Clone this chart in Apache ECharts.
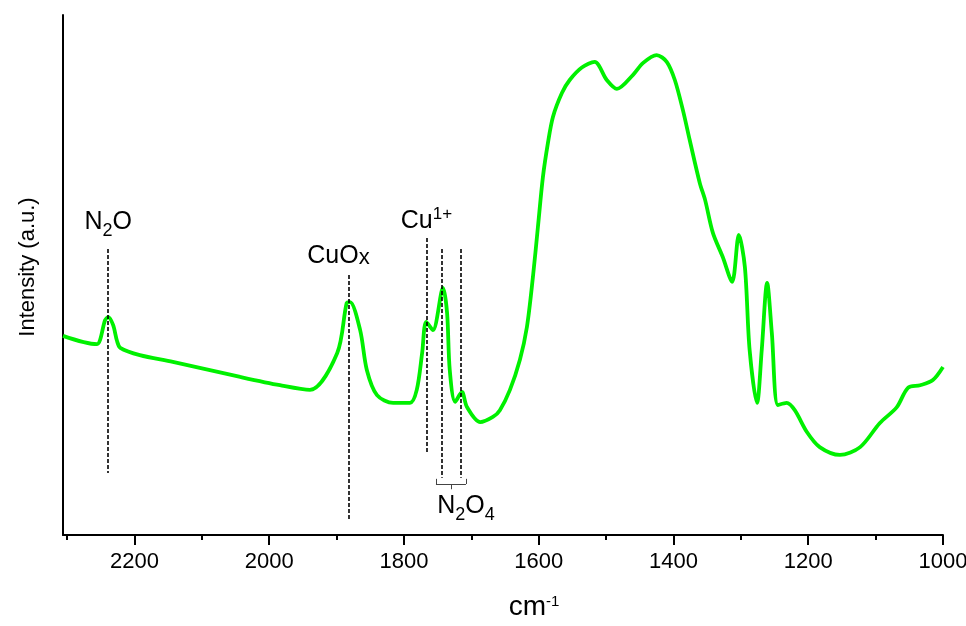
<!DOCTYPE html>
<html>
<head>
<meta charset="utf-8">
<script src="https://cdn.jsdelivr.net/npm/echarts@6/dist/echarts.min.js"></script>
<style>html,body{margin:0;padding:0;background:#fff;overflow:hidden}#c{width:966px;height:626px}</style>
</head>
<body>
<div id="c"></div>
<script>
// Spectrum (wavenumber in cm-1, intensity in a.u.)
const wavenumber = [2306,2255.5,2251,2243.6,2239,2231.7,2225.8,2221,2192,2143,2043,1984,1939.5,1899,1885,1880,1865,1855,1840,1816,1791,1781,1773,1767,1757,1742,1736,1732,1724,1714,1706.5,1687,1668,1657.6,1642.7,1627.9,1617.5,1608.6,1601.2,1593.8,1586.3,1578.9,1565.6,1554,1536,1517,1499,1484,1460,1445,1425,1410,1398,1386,1376,1361,1353,1341.5,1327,1313,1303,1294,1287,1276,1269,1261,1254,1245,1232,1220,1202,1183,1153,1123,1094,1068.5,1052,1034,1015,1000];
const intensity = [38.3,36.7,37.5,41.3,41.9,40.4,37.3,36.0,34.6,33.3,30.4,28.8,27.9,35.0,44.6,44.8,39.4,31.7,26.9,25.4,25.4,27.9,35.0,41.0,39.4,47.5,42.7,31.7,25.6,27.5,24.6,21.7,22.7,24.0,27.9,33.7,40.0,49.6,59.2,68.8,75.4,80.4,85.0,87.5,89.9,91.0,87.5,85.8,88.5,90.8,92.3,91.0,87.5,81.7,76.0,67.7,64.4,58.1,53.5,48.7,57.7,51.5,35.6,25.4,35.6,48.5,38.8,25.0,25.4,24.0,19.8,16.9,15.4,16.9,21.5,24.6,28.3,28.8,29.8,32.3];

// Axis ticks
const majorTicks = [1000,1200,1400,1600,1800,2000,2200];
const minorTicks = [1100,1300,1500,1700,1900,2100,2300];

// Annotation dashed lines: [wavenumber, yTop, yBottom]
const dashLines = [[2239,55.0,11.9],[1881.6,50.0,2.9],[1766,57.1,15.8],[1743.6,55.0,11.0],[1715.4,55.0,11.0]];
// Annotation labels: [wavenumber, y, rich text]
const labels = [[2239,60.1,'{n|N}{sub|2}{n|O}'],[1897.2,53.6,'{n|CuO}{xs|x}'],[1766.6,60.3,'{n|Cu}{sup|1+}'],[1708,5.5,'{n|N}{sub|2}{n|O}{sub|4}']];
// N2O4 bracket: [x1,y1,x2,y2]
const bracket = [[1752.5,10.8,1752.5,9.8],[1752.5,9.8,1708,9.8],[1708,9.8,1708,10.8],[1730,9.8,1730,8.8]];

const FONT = "'Liberation Sans', Arial, sans-serif";
const rich = {
  n: {fontSize: 25, fontFamily: FONT, color: '#000', lineHeight: 36, verticalAlign: 'middle'},
  sub: {fontSize: 18, fontFamily: FONT, color: '#000', verticalAlign: 'bottom'},
  xs: {fontSize: 22, fontFamily: FONT, color: '#000', verticalAlign: 'middle', padding: [4, 0, 0, 0]},
  sup: {fontSize: 17, fontFamily: FONT, color: '#000', verticalAlign: 'top', padding: [2, 0, 0, 0]}
};

const chart = echarts.init(document.getElementById('c'), null, {renderer: 'canvas'});
const data = wavenumber.map((w, i) => [w, intensity[i]]);

const markLineData = dashLines.map(d => [{coord: [d[0], d[1]]}, {coord: [d[0], d[2]]}]);
const bracketData = bracket.map(b => [{coord: [b[0], b[1]], lineStyle: {type: 'solid', width: 1, color: '#444'}}, {coord: [b[2], b[3]]}]);

chart.setOption({
  animation: false,
  backgroundColor: '#fff',
  grid: {left: 63, right: 23, top: 15, bottom: 91, containLabel: false, outerBoundsMode: 'none'},
  xAxis: [{
    type: 'value', min: 1000, max: 2306, inverse: true, position: 'bottom',
    name: '{c|cm}{sup|-1}', nameLocation: 'middle', nameGap: 54,
    nameTextStyle: {fontSize: 28, fontFamily: FONT, color: '#000', padding: [0, 0, 0, 62],
      rich: {
        c: {fontSize: 28, fontFamily: FONT, color: '#000', lineHeight: 32, verticalAlign: 'bottom'},
        sup: {fontSize: 15, fontFamily: FONT, color: '#000', verticalAlign: 'top', padding: [5, 0, 0, 0]}
      }},
    axisLine: {show: true, lineStyle: {color: '#000', width: 2}},
    axisTick: {show: true, inside: false, length: 10, customValues: majorTicks, lineStyle: {color: '#000', width: 2}},
    axisLabel: {show: true, customValues: majorTicks, margin: 16, fontSize: 22, fontFamily: FONT, color: '#000',
      formatter: v => String(v)},
    splitLine: {show: false}
  }, {
    type: 'value', min: 1000, max: 2306, inverse: true, position: 'bottom', gridIndex: 0,
    axisLine: {show: false},
    axisTick: {show: true, inside: false, length: 5, customValues: minorTicks, lineStyle: {color: '#000', width: 2}},
    axisLabel: {show: false},
    splitLine: {show: false}
  }],
  yAxis: {
    type: 'value', min: 0, max: 100,
    name: 'Intensity (a.u.)', nameLocation: 'middle', nameGap: 24,
    nameTextStyle: {fontSize: 22, fontFamily: FONT, color: '#000', padding: [0, 0, 0, 16]},
    axisLine: {show: true, lineStyle: {color: '#000', width: 2}},
    axisTick: {show: false}, axisLabel: {show: false}, splitLine: {show: false}
  },
  series: [{
    name: 'Spectrum', type: 'line', data: data, showSymbol: false, smooth: 0.3,
    lineStyle: {color: '#00f000', width: 3.8},
    markLine: {
      silent: true, symbol: ['none', 'none'], animation: false,
      label: {show: false},
      lineStyle: {type: [4, 2], color: '#000', width: 1.6},
      data: markLineData.concat(bracketData)
    },
    markPoint: {
      silent: true, symbol: 'circle', symbolSize: 0, animation: false,
      label: {show: true, position: 'inside', rich: rich},
      data: labels.map(l => ({coord: [l[0], l[1]], label: {formatter: l[2]}}))
    }
  }]
});
</script>
</body>
</html>
